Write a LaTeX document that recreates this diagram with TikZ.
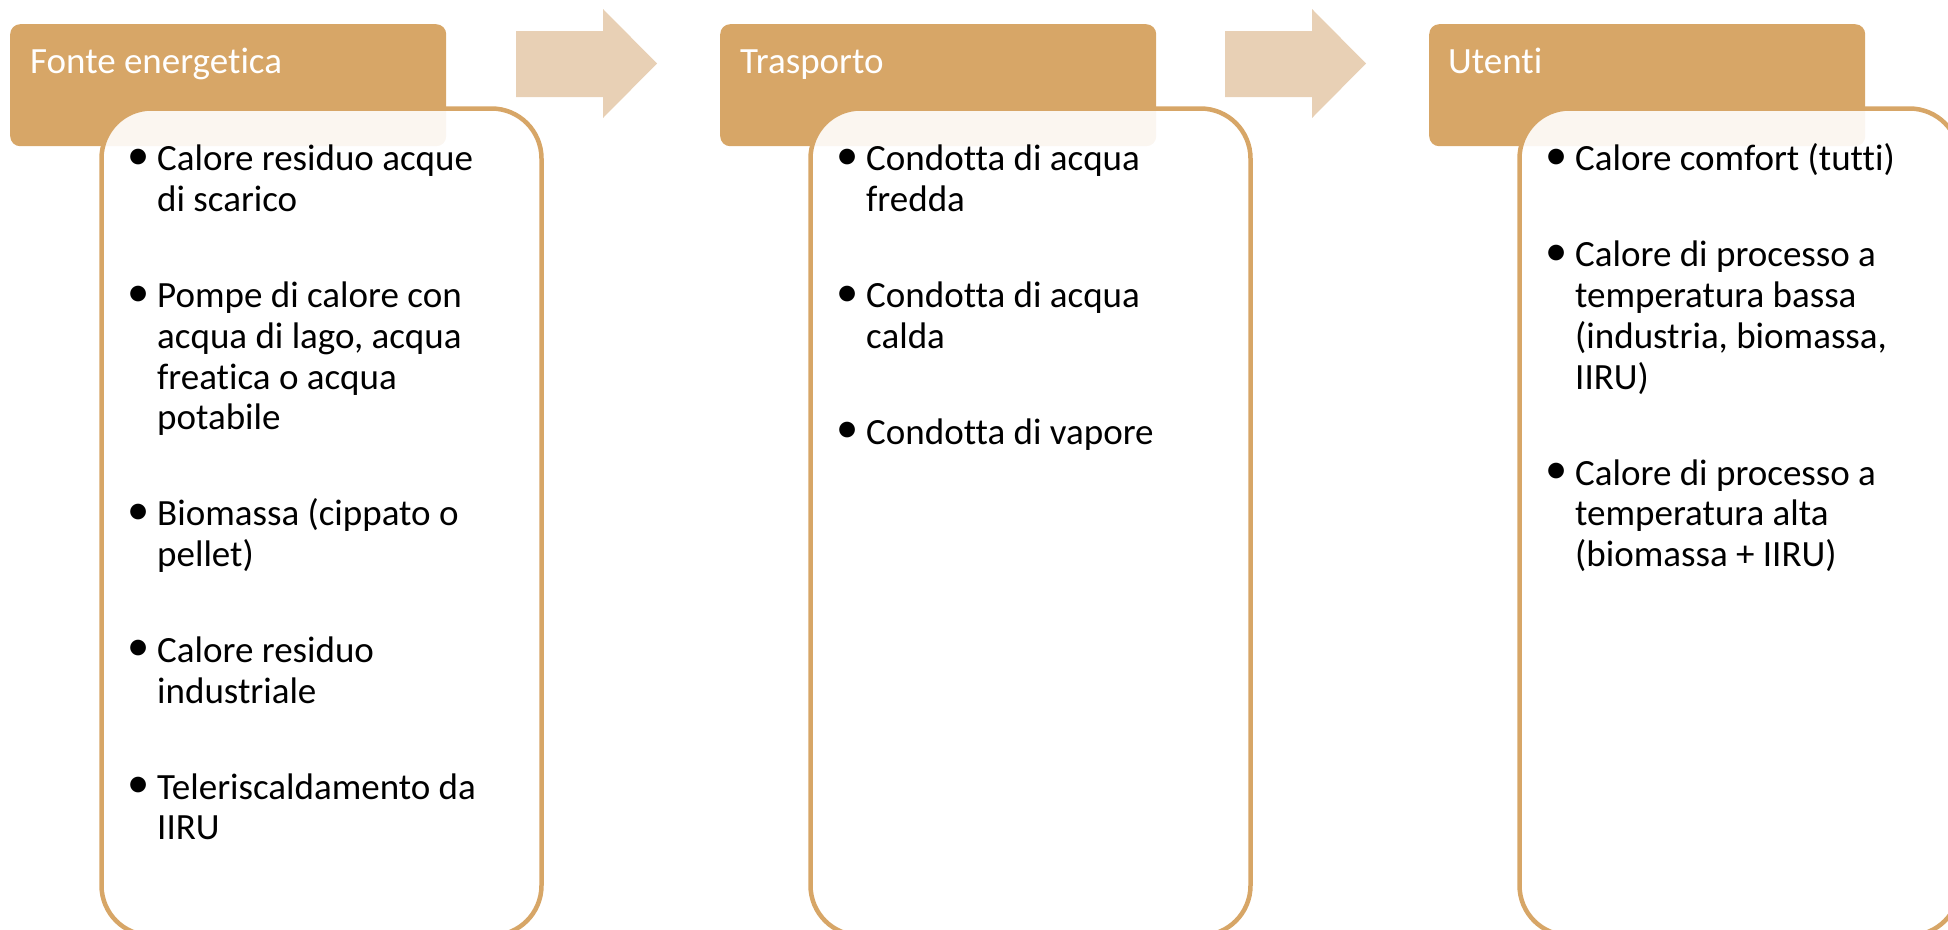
\documentclass[tikz,border=0pt]{standalone}
\usepackage{fontspec}
\setmainfont{Carlito}[Ligatures=NoCommon]
\usetikzlibrary{positioning}

\definecolor{hdrtan}{HTML}{D7A667}
\definecolor{flowtan}{HTML}{E8D0B5}
\newcommand{\itembullet}{\rule{0pt}{30pt}\llap{\makebox[0pt][c]{\raisebox{1.5pt}{\scalebox{1.2}{\textbullet}}}\hspace{18.5pt}}}

\begin{document}
\begin{tikzpicture}[x=1pt,y=-1pt]
	\tikzstyle{Header}	= [rectangle, rounded corners=10pt, fill=hdrtan, minimum width=436pt, minimum height=122pt, inner sep=0pt, anchor=north west]
	\tikzstyle{Panel}	= [rectangle, rounded corners=50pt, draw=hdrtan, line width=4.5pt, fill=white, fill opacity=0.9, minimum width=440pt, minimum height=827pt, inner sep=0pt, anchor=north west]
	\tikzstyle{Flow}	= [fill=flowtan]
	\tikzstyle{HeadText}	= [anchor=base west, inner sep=0pt, text=white, font=\fontsize{37}{40.7}\selectfont]
	\tikzstyle{ItemText}	= [anchor=north west, inner sep=0pt, align=left, font=\fontsize{37}{40.7}\selectfont]

	\useasboundingbox (0,0) rectangle (1948,929);

	% headers
	\node (h1) at (10,24) [Header] {};
	\node (h2) at (720,24) [Header] {};
	\node (h3) at (1429,24) [Header] {};

	% panels
	\node (p1) at (99.25,106.25) [Panel] {};
	\node (p2) at (808.25,106.25) [Panel] {};
	\node (p3) at (1517.25,106.25) [Panel] {};

	% block arrows
	\fill [Flow] (516,31) -- (603,31) -- (603,9) -- (657,63.5) -- (603,118) -- (603,97) -- (516,97) -- cycle;
	\fill [Flow] (1225,31) -- (1312,31) -- (1312,9) -- (1366,63.5) -- (1312,118) -- (1312,97) -- (1225,97) -- cycle;

	% header texts
	\node (t1) at (30,73.5) [HeadText] {Fonte energetica};
	\node (t2) at (740,73.5) [HeadText] {Trasporto};
	\node (t3) at (1448,73.5) [HeadText] {Utenti};

	% lists
	\node (l1) at (157,140.7) [ItemText] {\itembullet Calore residuo acque\\ di scarico\\[55.3pt]
		\itembullet Pompe di calore con\\ acqua di lago, acqua\\ freatica o acqua\\ potabile\\[55.3pt]
		\itembullet Biomassa (cippato o\\ pellet)\\[55.3pt]
		\itembullet Calore residuo\\ industriale\\[55.3pt]
		\itembullet Teleriscaldamento da\\ IIRU};
	\node (l2) at (866,140.7) [ItemText] {\itembullet Condotta di acqua\\ fredda\\[55.3pt]
		\itembullet Condotta di acqua\\ calda\\[55.3pt]
		\itembullet Condotta di vapore};
	\node (l3) at (1575,140.7) [ItemText] {\itembullet Calore comfort (tutti)\\[55.3pt]
		\itembullet Calore di processo a\\ temperatura bassa\\ (industria, biomassa,\\ IIRU)\\[55.3pt]
		\itembullet Calore di processo a\\ temperatura alta\\ (biomassa + IIRU)};
\end{tikzpicture}
\end{document}
